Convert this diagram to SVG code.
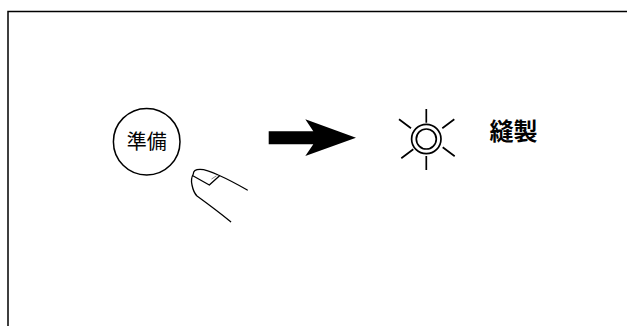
<svg xmlns="http://www.w3.org/2000/svg" width="627" height="326" viewBox="0 0 627 326">
<style>
.l{fill:none;stroke:#000;stroke-width:1.3;stroke-linecap:round;stroke-linejoin:round}
.r{fill:none;stroke:#000;stroke-width:1.7}
text{font-family:"Noto Sans CJK JP","Noto Sans CJK SC",sans-serif;fill:#000;text-anchor:middle;opacity:.99}
</style>
<rect width="627" height="326" fill="#fff"/>
<path id="frame" d="M8 326V11.5H627" fill="none" stroke="#000" stroke-width="1.5"/>
<g id="button"><circle cx="146.7" cy="141.7" r="33.3" fill="none" stroke="#000" stroke-width="1.5"/>
<text x="146.7" y="149" font-size="20">準備</text></g>
<g id="finger"><path class="l" d="M247.3 190C235 183 225 178 218.3 175C210 171 205 169.3 200 169.3C196 169.3 193.3 171 193.3 174C191 178 191.5 183 192 185C193 190 195 194 197 196C208 204 220 213 230.7 221.7"/>
<path class="l" d="M193.3 176L209.3 185L219.3 176"/><path d="M211.5 179L216.5 175.8" stroke="#666" stroke-width=".8" fill="none"/></g>
<g id="connectors"><polygon id="arrow" points="268.7,131.3 313.3,131.3 305.3,119.3 356,137.7 305.3,156 313.3,144.3 268.7,144.3" fill="#000"/></g>
<g id="lamp"><circle cx="426.3" cy="139" r="14.7" class="r"/><circle cx="426.3" cy="139" r="10" class="r"/>
<path class="r" d="M426.3 109V122.7M426.3 156V170M399 119.3L411 128.3M454.3 119.3L442.3 128.3M401.3 158.3L413.3 149.3M454.7 156.3L442.7 147.3"/></g>
<g id="label"><text x="513.5" y="139.5" font-size="24" font-weight="700">縫製</text></g>
</svg>
